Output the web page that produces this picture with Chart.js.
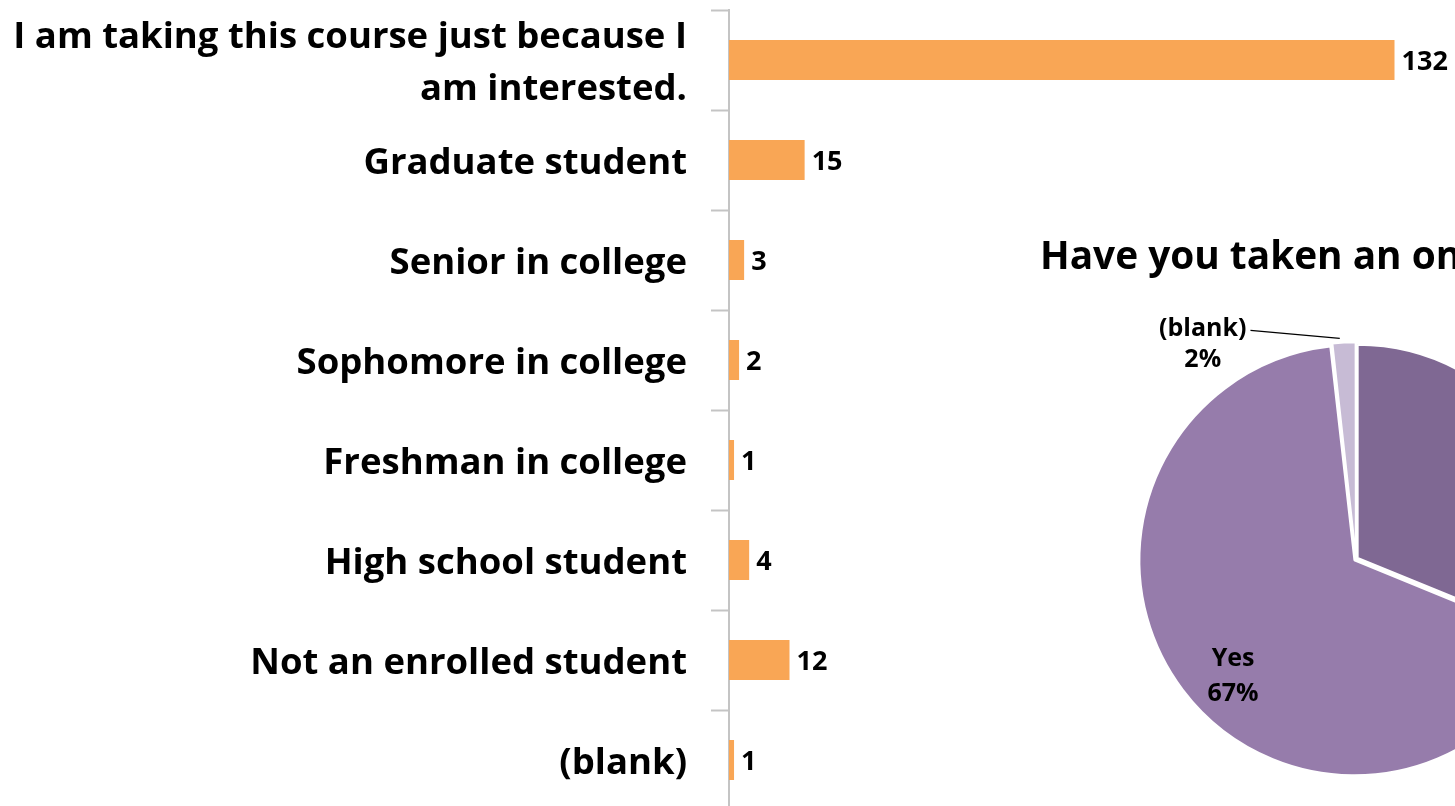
<!DOCTYPE html>
<html>
<head>
<meta charset="utf-8">
<script src="https://cdn.jsdelivr.net/npm/chart.js@4/dist/chart.umd.min.js"></script>
<style>
  html, body { margin: 0; padding: 0; background: #fff; }
  body { width: 1455px; height: 806px; overflow: hidden; position: relative; }
  #barChart { position: absolute; left: 0; top: 0; }
  #pieChart { position: absolute; left: 956px; top: 200px; }
</style>
</head>
<body>
<canvas id="barChart" width="1455" height="812"></canvas>
<canvas id="pieChart" width="800" height="600"></canvas>
<script>
const FONT = "'Open Sans', Lato, sans-serif";

// bar chart: student status
const statusLabels = [
  ["I am taking this course just because I", "am interested."],
  "Graduate student",
  "Senior in college",
  "Sophomore in college",
  "Freshman in college",
  "High school student",
  "Not an enrolled student",
  "(blank)"
];
const statusCounts = [132, 15, 3, 2, 1, 4, 12, 1];

// pie chart: taken an online course before?
const pieTitle = "Have you taken an online course before?";
const pieLabels = ["No", "Yes", "(blank)"];
const pieCounts = [53, 114, 3];
const pieColors = ["#7f6893", "#967cab", "#c7bbd5"];

const barValueLabels = {
  id: "barValueLabels",
  afterDatasetsDraw(chart) {
    const ctx = chart.ctx;
    const meta = chart.getDatasetMeta(0);
    ctx.save();
    ctx.font = "bold 27px " + FONT;
    ctx.fillStyle = "#000";
    ctx.textBaseline = "middle";
    ctx.textAlign = "left";
    meta.data.forEach((bar, i) => {
      ctx.fillText(String(statusCounts[i]), bar.x + 7, bar.y + 2);
    });
    ctx.restore();
  }
};

new Chart(document.getElementById("barChart"), {
  type: "bar",
  data: {
    labels: statusLabels,
    datasets: [{
      data: statusCounts,
      backgroundColor: "#f9a655",
      barPercentage: 0.4,
      categoryPercentage: 1
    }]
  },
  options: {
    indexAxis: "y",
    responsive: false,
    animation: false,
    devicePixelRatio: 1,
    layout: { padding: { top: 10, right: 0, bottom: 2, left: 0 } },
    plugins: { legend: { display: false }, tooltip: { enabled: false } },
    scales: {
      x: { display: false, min: 0, max: 144 },
      y: {
        afterFit(scale) {
          scale.width = 729;
          scale.paddingTop = 0;
          scale.paddingBottom = 0;
        },
        grid: {
          offset: true,
          drawOnChartArea: false,
          tickLength: 18,
          tickWidth: 2,
          tickColor: "#c4c4c4"
        },
        border: { display: true, color: "#c4c4c4", width: 2 },
        ticks: {
          autoSkip: false,
          padding: 24,
          labelOffset: 4,
          color: "#000",
          font: { family: FONT, size: 36.5, weight: "bold", lineHeight: 1.42 }
        }
      }
    }
  },
  plugins: [barValueLabels]
});

// title drawn by hand so the canvas does not squeeze it to the box width
const pieTitlePlugin = {
  id: "pieTitlePlugin",
  afterDraw(chart) {
    const ctx = chart.ctx;
    ctx.save();
    ctx.font = "bold 38.8px " + FONT;
    ctx.fillStyle = "#000";
    ctx.textAlign = "left";
    ctx.textBaseline = "middle";
    ctx.fillText(pieTitle, chart.options.layout.padding.left, 58);
    ctx.restore();
  }
};

const pieValueLabels = {
  id: "pieValueLabels",
  afterDatasetsDraw(chart) {
    const ctx = chart.ctx;
    const meta = chart.getDatasetMeta(0);
    const total = pieCounts.reduce((a, b) => a + b, 0);
    ctx.save();
    ctx.font = "bold 25px " + FONT;
    ctx.fillStyle = "#000";
    ctx.textBaseline = "middle";
    ctx.textAlign = "center";
    meta.data.forEach((arc, i) => {
      const p = arc.getProps(["x", "y", "startAngle", "endAngle", "outerRadius"], true);
      const off = arc.options.offset || 0;
      const mid = (p.startAngle + p.endAngle) / 2;
      const cx = p.x + Math.cos(mid) * off;
      const cy = p.y + Math.sin(mid) * off;
      const pct = Math.round(pieCounts[i] / total * 100) + "%";
      if (pieCounts[i] / total < 0.05) {
        // small slice: label outside with a leader line
        const ex = cx + Math.cos(mid) * p.outerRadius;
        const ey = cy + Math.sin(mid) * p.outerRadius;
        const lx = ex - 141;
        const w = ctx.measureText(pieLabels[i]).width;
        ctx.fillText(pieLabels[i], lx, ey - 9);
        ctx.fillText(pct, lx, ey + 22);
        ctx.strokeStyle = "#000";
        ctx.lineWidth = 1.2;
        ctx.beginPath();
        ctx.moveTo(lx + w / 2 + 4, ey - 8);
        ctx.lineTo(ex - 4, ey);
        ctx.stroke();
      } else {
        const a = mid - 0.12;
        const r = p.outerRadius * 0.76;
        const x = cx + Math.cos(a) * r;
        const y = cy + Math.sin(a) * r;
        ctx.fillText(pieLabels[i], x, y - 17);
        ctx.fillText(pct, x, y + 18);
      }
    });
    ctx.restore();
  }
};

new Chart(document.getElementById("pieChart"), {
  type: "pie",
  data: {
    labels: pieLabels,
    datasets: [{
      data: pieCounts,
      backgroundColor: pieColors,
      borderColor: "#ffffff",
      borderWidth: 2,
      offset: 8
    }]
  },
  options: {
    responsive: false,
    animation: false,
    devicePixelRatio: 1,
    radius: 213,
    layout: { padding: { top: 118, right: 84, bottom: 0, left: 84 } },
    plugins: {
      legend: { display: false },
      tooltip: { enabled: false },
      title: { display: false }
    }
  },
  plugins: [pieValueLabels, pieTitlePlugin]
});
</script>
</body>
</html>
